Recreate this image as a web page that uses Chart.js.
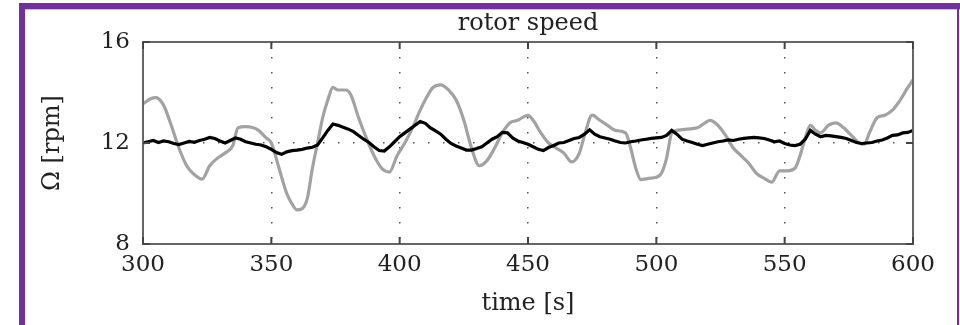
<!DOCTYPE html>
<html>
<head>
<meta charset="utf-8">
<script src="https://cdn.jsdelivr.net/npm/chart.js@4/dist/chart.umd.min.js"></script>
<style>
html,body{margin:0;padding:0;background:#fff;}
#wrap{width:960px;height:325px;}
</style>
</head>
<body>
<div id="wrap"><canvas id="c" width="960" height="325"></canvas></div>
<script>
// ---- data ----
const titleText = "rotor speed";
const xLabel = "time [s]";
const yLabel = "Ω [rpm]";
const xTicks = [300, 350, 400, 450, 500, 550, 600];
const yTicks = [8, 12, 16];

// grey curve (sampled at uneven times)
const greyT = [300,303,305,308,311,314,317,320,323,326,329,332,335,337,340,343,345,348,350,353,356,358,360,362,364,366,368,370,372,374,376,379,381,384,387,390,393,396,399,402,405,408,411,413,416,419,422,425,428,431,434,437,440,443,446,450,452,455,458,461,464,467,470,472,475,478,481,484,488,490,492,494,497,500,502,504,506,508,512,516,519,521,524,527,530,533,536,539,542,545,548,551,554,556,558,560,562,564,567,570,573,576,579,581,583,586,589,592,595,598,600];
const greyV = [13.55,13.75,13.8,13.5,12.7,11.8,11.1,10.75,10.57,11.1,11.4,11.6,11.9,12.6,12.65,12.6,12.5,12.2,12.0,11.0,10.0,9.6,9.35,9.4,9.8,11.0,12.0,13.0,13.7,14.2,14.1,14.1,13.9,13.0,12.2,11.5,11.0,10.85,11.5,12.0,12.6,13.3,13.9,14.2,14.3,14.1,13.7,12.9,11.8,11.1,11.3,11.8,12.4,12.8,12.9,13.1,12.9,12.4,12.0,11.8,11.6,11.25,11.6,12.3,13.1,12.9,12.7,12.5,12.4,11.8,11.0,10.55,10.6,10.65,10.8,11.4,12.4,12.5,12.55,12.6,12.8,12.9,12.7,12.3,11.8,11.5,11.2,10.8,10.6,10.45,10.9,10.9,11.0,11.5,12.2,12.7,12.5,12.4,12.7,12.8,12.6,12.3,12.0,11.95,12.4,13.0,13.1,13.3,13.7,14.2,14.5];

// black curve, every 2 s from 300 to 600
const blackT0 = 300, blackDT = 2;
const blackV = [12.00,12.05,12.10,12.02,12.08,12.05,11.98,11.94,12.00,12.06,12.03,12.10,12.15,12.22,12.18,12.08,12.00,12.10,12.20,12.15,12.05,12.00,11.95,11.92,11.85,11.75,11.62,11.55,11.65,11.70,11.72,11.75,11.80,11.83,11.92,12.20,12.50,12.75,12.70,12.62,12.55,12.45,12.30,12.15,12.02,11.85,11.70,11.68,11.85,12.05,12.25,12.40,12.55,12.70,12.85,12.78,12.60,12.48,12.35,12.15,11.98,11.88,11.80,11.72,11.72,11.78,11.85,12.00,12.15,12.25,12.42,12.40,12.20,12.08,12.02,11.95,11.85,11.75,11.70,11.82,11.90,12.00,12.02,12.10,12.18,12.22,12.35,12.52,12.35,12.25,12.20,12.15,12.08,12.02,12.00,12.05,12.08,12.12,12.15,12.18,12.20,12.22,12.30,12.50,12.35,12.15,12.08,12.02,11.95,11.90,11.95,12.00,12.05,12.08,12.12,12.10,12.15,12.18,12.20,12.22,12.20,12.18,12.12,12.05,12.08,11.98,11.92,11.90,11.95,12.15,12.50,12.35,12.25,12.30,12.28,12.25,12.22,12.18,12.10,12.02,11.98,12.00,12.02,12.08,12.12,12.20,12.30,12.32,12.40,12.42,12.50];

// ---- build ----
const greyData = greyT.map((t, i) => ({x: t, y: greyV[i]}));
const blackData = blackV.map((v, i) => ({x: blackT0 + i * blackDT, y: v}));

const serif = "'DejaVu Serif', serif";
const PLOT_LEFT = 143, PLOT_RIGHT = 913, PLOT_TOP = 42, PLOT_BOTTOM = 244;
const W = 960, H = 325;

const framePlugin = {
  id: 'frame',
  beforeDraw(chart) {
    const ctx = chart.ctx;
    ctx.save();
    ctx.fillStyle = '#ffffff';
    ctx.fillRect(0, 0, W, H);
    ctx.fillStyle = '#7030a0';
    ctx.fillRect(19, 3, 6, H - 3);
    ctx.fillRect(19, 3, W - 19, 6);
    ctx.fillRect(957, 3, 2, H - 3);
    ctx.fillStyle = 'rgba(112,48,160,0.35)';
    ctx.fillRect(25, 9, W - 25, 1);
    ctx.restore();
  },
  afterDatasetsDraw(chart) {
    const ctx = chart.ctx;
    const a = chart.chartArea;
    const xs = chart.scales.x, ys = chart.scales.y;
    ctx.save();
    ctx.strokeStyle = '#666666';
    ctx.lineWidth = 2;
    ctx.strokeRect(a.left, a.top, a.right - a.left, a.bottom - a.top);
    ctx.lineWidth = 2;
    ctx.strokeStyle = '#444444';
    ctx.beginPath();
    xTicks.forEach(v => {
      const px = xs.getPixelForValue(v);
      ctx.moveTo(px, a.top); ctx.lineTo(px, a.top + 7);
      ctx.moveTo(px, a.bottom); ctx.lineTo(px, a.bottom - 7);
    });
    yTicks.forEach(v => {
      const py = ys.getPixelForValue(v);
      ctx.moveTo(a.left, py); ctx.lineTo(a.left + 7, py);
      ctx.moveTo(a.right, py); ctx.lineTo(a.right - 7, py);
    });
    ctx.stroke();
    ctx.restore();
  }
};

new Chart(document.getElementById('c'), {
  type: 'line',
  data: {
    datasets: [
      {
        label: 'measured',
        data: blackData,
        borderColor: '#000000',
        borderWidth: 3.2,
        pointRadius: 0,
        tension: 0,
        order: 0
      },
      {
        label: 'reference',
        data: greyData,
        borderColor: '#a2a2a2',
        borderWidth: 3.2,
        pointRadius: 0,
        tension: 0.4,
        cubicInterpolationMode: 'monotone',
        order: 1
      }
    ]
  },
  options: {
    responsive: false,
    animation: false,
    layout: { padding: { left: 0, right: W - PLOT_RIGHT, top: 0, bottom: 0 } },
    plugins: {
      legend: { display: false },
      tooltip: { enabled: false },
      title: {
        display: true,
        text: titleText,
        fullSize: false,
        color: '#222222',
        font: { family: serif, size: 24, weight: 'normal' },
        padding: { top: 9, bottom: PLOT_TOP - 9 - 28.8 }
      }
    },
    scales: {
      x: {
        type: 'linear',
        min: 300, max: 600,
        afterFit(s) { s.height = H - PLOT_BOTTOM; },
        afterBuildTicks(s) { s.ticks = xTicks.map(v => ({value: v})); },
        ticks: { color: '#222222', font: { family: serif, size: 23 }, padding: 7, maxRotation: 0, autoSkip: false },
        grid: { color: '#555555', lineWidth: 1.5, drawTicks: false },
        border: { display: false, dash: [1.5, 13.5] },
        title: { display: true, text: xLabel, color: '#222222', font: { family: serif, size: 24 }, padding: { top: 0, bottom: 7 } }
      },
      y: {
        type: 'linear',
        min: 8, max: 16,
        afterFit(s) { s.width = PLOT_LEFT; },
        afterBuildTicks(s) { s.ticks = yTicks.map(v => ({value: v})); },
        ticks: { color: '#222222', font: { family: serif, size: 23 }, padding: 13 },
        grid: { color: '#555555', lineWidth: 1.5, drawTicks: false },
        border: { display: false, dash: [1.5, 13.5] },
        title: { display: true, text: yLabel, color: '#222222', font: { family: serif, size: 24 }, padding: { top: 38, bottom: 0 } }
      }
    }
  },
  plugins: [framePlugin]
});
</script>
</body>
</html>
